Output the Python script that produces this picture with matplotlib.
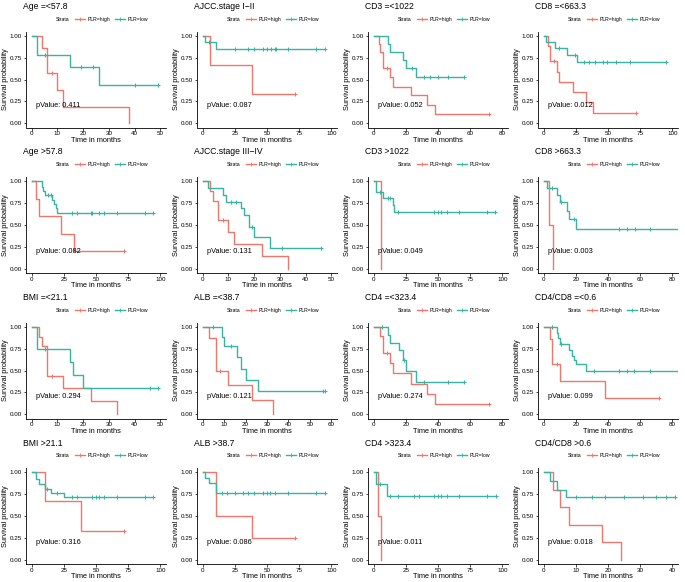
import numpy as np
import matplotlib.pyplot as plt
from matplotlib.lines import Line2D

plt.rcParams['font.family'] = ['Liberation Sans', 'DejaVu Sans']

HIGH = '#F0766B'
LOW = '#38B4A3'

# Age =<57.8
age_le_high_t = [0, 4, 6, 10, 12, 38]
age_le_high_s = [1, 0.857, 0.571, 0.381, 0.190, 0]
age_le_high_c = [8]
age_le_low_t = [0, 2, 15, 26]
age_le_low_s = [1, 0.778, 0.648, 0.432]
age_le_low_c = [5, 19, 24, 40, 49]

# AJCC.stage I-II
ajcc_12_high_t = [0, 6, 38]
ajcc_12_high_s = [1, 0.667, 0.333]
ajcc_12_high_c = [72]
ajcc_12_low_t = [0, 2, 10]
ajcc_12_low_s = [1, 0.927, 0.85]
ajcc_12_low_c = [5, 25, 35, 40, 47, 50, 53, 56, 57, 66, 88, 95]

# CD3 =<1022
cd3_le_high_t = [0, 3, 4, 6, 10, 12, 23, 33, 38]
cd3_le_high_s = [1, 0.91, 0.82, 0.636, 0.53, 0.42, 0.32, 0.21, 0.105]
cd3_le_high_c = [8, 72]
cd3_le_low_t = [0, 9, 10, 18, 20, 26]
cd3_le_low_s = [1, 0.91, 0.82, 0.725, 0.636, 0.53]
cd3_le_low_c = [24, 31, 35, 40, 46, 56]

# CD8 =<663.3
cd8_le_high_t = [0, 3, 5, 10, 12, 23, 33, 38]
cd8_le_high_s = [1, 0.89, 0.71, 0.59, 0.475, 0.356, 0.237, 0.119]
cd8_le_high_c = [8, 72]
cd8_le_low_t = [0, 2, 9, 18, 26]
cd8_le_low_s = [1, 0.93, 0.857, 0.785, 0.70]
cd8_le_low_c = [12, 24, 31, 35, 40, 46, 49, 56, 67, 95]

# Age >57.8
age_gt_high_t = [0, 3, 6, 23, 33]
age_gt_high_s = [1, 0.8, 0.6, 0.4, 0.2]
age_gt_high_c = [72]
age_gt_low_t = [0, 8, 9, 10, 16, 17, 19, 20]
age_gt_low_s = [1, 0.94, 0.89, 0.84, 0.79, 0.74, 0.69, 0.64]
age_gt_low_c = [13, 15, 31, 35, 46, 47, 52, 56, 66, 88, 94]

# AJCC.stage III-IV
ajcc_34_high_t = [0, 3, 4, 6, 10, 12, 23, 33]
ajcc_34_high_s = [1, 0.89, 0.78, 0.56, 0.415, 0.28, 0.14, 0]
ajcc_34_high_c = [8]
ajcc_34_low_t = [0, 2, 8, 9, 15, 16, 18, 20, 26]
ajcc_34_low_s = [1, 0.92, 0.85, 0.77, 0.69, 0.62, 0.48, 0.36, 0.24]
ajcc_34_low_c = [11, 13, 19, 31, 46]

# CD3 >1022
cd3_gt_high_t = [0, 6]
cd3_gt_high_s = [1, 0]
cd3_gt_high_c = []
cd3_gt_low_t = [0, 2, 7, 15, 16]
cd3_gt_low_s = [1, 0.88, 0.81, 0.73, 0.645]
cd3_gt_low_c = [5, 11, 13, 19, 47, 50, 52, 57, 66, 88, 94]

# CD8 >663.3
cd8_gt_high_t = [0, 3.5, 6]
cd8_gt_high_s = [1, 0.5, 0]
cd8_gt_high_c = []
cd8_gt_low_t = [0, 2, 8, 10, 14.5, 15.5, 20]
cd8_gt_low_s = [1, 0.92, 0.84, 0.76, 0.66, 0.57, 0.455]
cd8_gt_low_c = [5, 11, 19, 47, 52, 57, 66, 88, 94]

# BMI =<21.1
bmi_le_high_t = [0, 3, 4, 6, 12, 23, 33]
bmi_le_high_s = [1, 0.89, 0.78, 0.44, 0.30, 0.15, 0]
bmi_le_high_c = [8]
bmi_le_low_t = [0, 2, 15, 16, 20]
bmi_le_low_s = [1, 0.75, 0.60, 0.45, 0.30]
bmi_le_low_c = [5, 46, 49]

# ALB =<38.7
alb_le_high_t = [0, 3, 6, 12, 23, 33]
alb_le_high_s = [1, 0.875, 0.5, 0.333, 0.167, 0]
alb_le_high_c = [8]
alb_le_low_t = [0, 9, 10, 16, 18, 20, 26]
alb_le_low_s = [1, 0.89, 0.78, 0.65, 0.52, 0.39, 0.26]
alb_le_low_c = [5, 13, 56, 57]

# CD4 =<323.4
cd4_le_high_t = [0, 4, 6, 10, 12, 23, 33, 38]
cd4_le_high_s = [1, 0.90, 0.70, 0.585, 0.47, 0.35, 0.235, 0.117]
cd4_le_high_c = [8, 72]
cd4_le_low_t = [0, 9, 10, 16, 18, 20, 26]
cd4_le_low_s = [1, 0.91, 0.82, 0.73, 0.62, 0.49, 0.37]
cd4_le_low_c = [5, 19, 31, 46, 56]

# CD4/CD8 =<0.6
cd48_le_high_t = [0, 4, 5, 10, 38]
cd48_le_high_s = [1, 0.857, 0.571, 0.381, 0.19]
cd48_le_high_c = [8, 72]
cd48_le_low_t = [0, 8, 9, 10, 16, 17.5, 19, 20, 26]
cd48_le_low_s = [1, 0.93, 0.87, 0.81, 0.74, 0.67, 0.62, 0.57, 0.49]
cd48_le_low_c = [5, 11, 31, 47, 52, 56, 66, 94]

# BMI >21.1
bmi_gt_high_t = [0, 10, 38]
bmi_gt_high_s = [1, 0.667, 0.333]
bmi_gt_high_c = [72]
bmi_gt_low_t = [0, 3, 6, 10, 15, 25]
bmi_gt_low_s = [1, 0.93, 0.87, 0.81, 0.77, 0.72]
bmi_gt_low_c = [12, 20, 31, 35, 47, 50, 52, 56, 66, 88, 94]

# ALB >38.7
alb_gt_high_t = [0, 10, 38]
alb_gt_high_s = [1, 0.5, 0.25]
alb_gt_high_c = [72]
alb_gt_low_t = [0, 2, 5, 10]
alb_gt_low_s = [1, 0.94, 0.88, 0.77]
alb_gt_low_c = [15, 19, 25, 31, 35, 40, 47, 50, 52, 56, 66, 88, 95]

# CD4 >323.4
cd4_gt_high_t = [0, 3, 6]
cd4_gt_high_s = [1, 0.5, 0]
cd4_gt_high_c = []
cd4_gt_low_t = [0, 2, 10]
cd4_gt_low_s = [1, 0.87, 0.73]
cd4_gt_low_c = [5, 13, 19, 31, 35, 47, 50, 52, 57, 66, 88, 95]

# CD4/CD8 >0.6
cd48_gt_high_t = [0, 3, 5, 8, 18, 24]
cd48_gt_high_s = [1, 0.8, 0.6, 0.4, 0.2, 0]
cd48_gt_high_c = []
cd48_gt_low_t = [0, 2, 4, 7]
cd48_gt_low_s = [1, 0.9, 0.8, 0.72]
cd48_gt_low_c = [10, 15, 19, 25, 31, 35, 38, 41]

titles = ['Age =<57.8', 'AJCC.stage I\u2212II', 'CD3 =<1022', 'CD8 =<663.3',
          'Age >57.8', 'AJCC.stage III\u2212IV', 'CD3 >1022', 'CD8 >663.3',
          'BMI =<21.1', 'ALB =<38.7', 'CD4 =<323.4', 'CD4/CD8 =<0.6',
          'BMI >21.1', 'ALB >38.7', 'CD4 >323.4', 'CD4/CD8 >0.6']
pvalues = ['0.411', '0.087', '0.052', '0.012',
           '0.082', '0.131', '0.049', '0.003',
           '0.294', '0.121', '0.274', '0.099',
           '0.316', '0.086', '0.011', '0.018']
x_max = [50, 100, 80, 100,
         100, 50, 100, 80,
         50, 60, 80, 80,
         100, 100, 100, 40]
x_step = [10, 25, 20, 25,
          25, 10, 25, 20,
          10, 10, 20, 20,
          25, 25, 25, 10]

curves = [
    ((age_le_high_t, age_le_high_s, age_le_high_c), (age_le_low_t, age_le_low_s, age_le_low_c)),
    ((ajcc_12_high_t, ajcc_12_high_s, ajcc_12_high_c), (ajcc_12_low_t, ajcc_12_low_s, ajcc_12_low_c)),
    ((cd3_le_high_t, cd3_le_high_s, cd3_le_high_c), (cd3_le_low_t, cd3_le_low_s, cd3_le_low_c)),
    ((cd8_le_high_t, cd8_le_high_s, cd8_le_high_c), (cd8_le_low_t, cd8_le_low_s, cd8_le_low_c)),
    ((age_gt_high_t, age_gt_high_s, age_gt_high_c), (age_gt_low_t, age_gt_low_s, age_gt_low_c)),
    ((ajcc_34_high_t, ajcc_34_high_s, ajcc_34_high_c), (ajcc_34_low_t, ajcc_34_low_s, ajcc_34_low_c)),
    ((cd3_gt_high_t, cd3_gt_high_s, cd3_gt_high_c), (cd3_gt_low_t, cd3_gt_low_s, cd3_gt_low_c)),
    ((cd8_gt_high_t, cd8_gt_high_s, cd8_gt_high_c), (cd8_gt_low_t, cd8_gt_low_s, cd8_gt_low_c)),
    ((bmi_le_high_t, bmi_le_high_s, bmi_le_high_c), (bmi_le_low_t, bmi_le_low_s, bmi_le_low_c)),
    ((alb_le_high_t, alb_le_high_s, alb_le_high_c), (alb_le_low_t, alb_le_low_s, alb_le_low_c)),
    ((cd4_le_high_t, cd4_le_high_s, cd4_le_high_c), (cd4_le_low_t, cd4_le_low_s, cd4_le_low_c)),
    ((cd48_le_high_t, cd48_le_high_s, cd48_le_high_c), (cd48_le_low_t, cd48_le_low_s, cd48_le_low_c)),
    ((bmi_gt_high_t, bmi_gt_high_s, bmi_gt_high_c), (bmi_gt_low_t, bmi_gt_low_s, bmi_gt_low_c)),
    ((alb_gt_high_t, alb_gt_high_s, alb_gt_high_c), (alb_gt_low_t, alb_gt_low_s, alb_gt_low_c)),
    ((cd4_gt_high_t, cd4_gt_high_s, cd4_gt_high_c), (cd4_gt_low_t, cd4_gt_low_s, cd4_gt_low_c)),
    ((cd48_gt_high_t, cd48_gt_high_s, cd48_gt_high_c), (cd48_gt_low_t, cd48_gt_low_s, cd48_gt_low_c)),
]


def draw_curve(ax, t, s, cens, color):
    end = max([t[-1]] + list(cens))
    ax.step(list(t) + [end], list(s) + [s[-1]], where='post', color=color, lw=1.0)
    if cens:
        idx = np.searchsorted(t, cens, side='right') - 1
        ax.plot(cens, np.array(s)[idx], ls='none', marker='+', color=color,
                ms=3.4, mew=0.75)


W, H = 685, 582
fig = plt.figure(figsize=(W / 100, H / 100), dpi=100)

col_x0 = [0, 171, 342, 512]
row_y0 = [0, 145.5, 291, 436.5]

for i in range(16):
    r, c = divmod(i, 4)
    x0, y0 = col_x0[c], row_y0[r]
    ax_left, ax_right = x0 + 26, x0 + 166
    ax_top, ax_bot = y0 + 31.6, y0 + 127.5
    ax = fig.add_axes([ax_left / W, 1 - ax_bot / H,
                       (ax_right - ax_left) / W, (ax_bot - ax_top) / H])
    hi, lo = curves[i]
    draw_curve(ax, *hi, HIGH)
    draw_curve(ax, *lo, LOW)

    xm = x_max[i]
    ax.set_xlim(-0.045 * xm, 1.045 * xm)
    ax.set_ylim(-0.05, 1.05)
    ax.set_xticks(np.arange(0, xm + 0.1, x_step[i]))
    ax.set_yticks([0, 0.25, 0.5, 0.75, 1.0])
    ax.set_yticklabels(['0.00', '0.25', '0.50', '0.75', '1.00'])
    for sp in ['top', 'right']:
        ax.spines[sp].set_visible(False)
    for sp in ['left', 'bottom']:
        ax.spines[sp].set_linewidth(0.6)
    ax.tick_params(labelsize=4.5, length=1.8, width=0.5, pad=1)
    ax.set_xlabel('Time in months', fontsize=5.3, labelpad=0.3)
    ax.set_ylabel('Survival probability', fontsize=5.3, labelpad=0.8)

    ax.text(0.03 * xm, 0.2, 'pValue: ' + pvalues[i], fontsize=5.3,
            ha='left', va='center')

    fig.text((x0 + 23) / W, 1 - (y0 + 6.5) / H, titles[i], fontsize=6.2,
             ha='left', va='center')

    handles = [Line2D([], [], color='none'),
               Line2D([], [], color=HIGH, lw=1.0, marker='+', ms=3, mew=0.6),
               Line2D([], [], color=LOW, lw=1.0, marker='+', ms=3, mew=0.6)]
    ax.legend(handles, ['Strata', 'PLR=high', 'PLR=low'], ncol=3,
              loc='center', bbox_to_anchor=(0.5, 1 + (31.6 - 19) / 96),
              frameon=False, fontsize=3.7, handlelength=2.0,
              handletextpad=0.4, columnspacing=1.0, borderpad=0)

fig.savefig('out.png', dpi=100)
